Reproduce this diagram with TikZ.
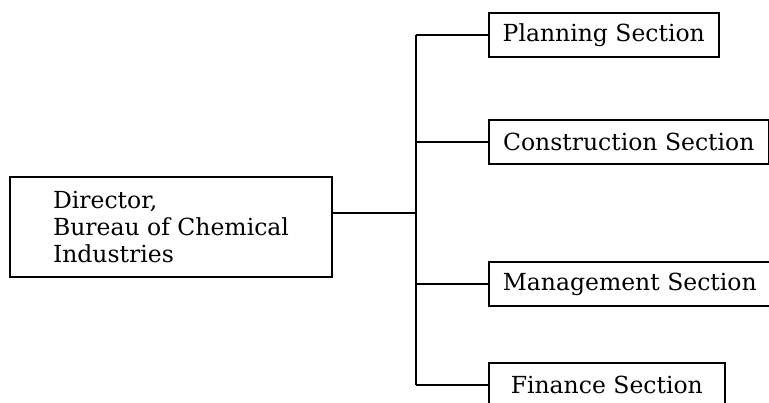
\documentclass[tikz,border=0pt]{standalone}
\usepackage{fontspec}
\setmainfont{DejaVu Serif}
\usepackage{tikz}
\usetikzlibrary{positioning}
\tikzset{
  orgline/.style={line width=1.6pt},
  headbox/.style={draw, line width=1.6pt, align=left, inner sep=0pt, font=\fontsize{23.5}{27}\selectfont},
  sectbox/.style={draw, line width=1.6pt, anchor=west, inner sep=0pt, minimum height=44pt, font=\fontsize{23.5}{27}\selectfont}
}

\begin{document}
\begin{tikzpicture}[x=1pt,y=-1pt]
\useasboundingbox (0,0) rectangle (769,402);
\clip (0,0) rectangle (769,402);
\node[headbox, minimum width=322pt, minimum height=100pt] (director) at (171,227) {Director,\\Bureau of Chemical\\Industries};
\node[sectbox, minimum width=230pt] (planning) at (488,35) {Planning Section};
\node[sectbox, minimum width=280pt] (construction) at (488,142) {Construction Section};
\node[sectbox, minimum width=282pt] (management) at (488,284) {Management Section};
\node[sectbox, minimum width=236pt] (finance) at (488,385) {Finance Section};
\coordinate (trunk) at (416,213);
\draw[orgline] (director.east |- trunk) -- (trunk);
\draw[orgline] (trunk |- planning.west) -- (trunk |- finance.west);
\foreach \sect in {planning,construction,management,finance}
  \draw[orgline] (trunk |- \sect.west) -- (\sect.west);
\end{tikzpicture}
\end{document}
